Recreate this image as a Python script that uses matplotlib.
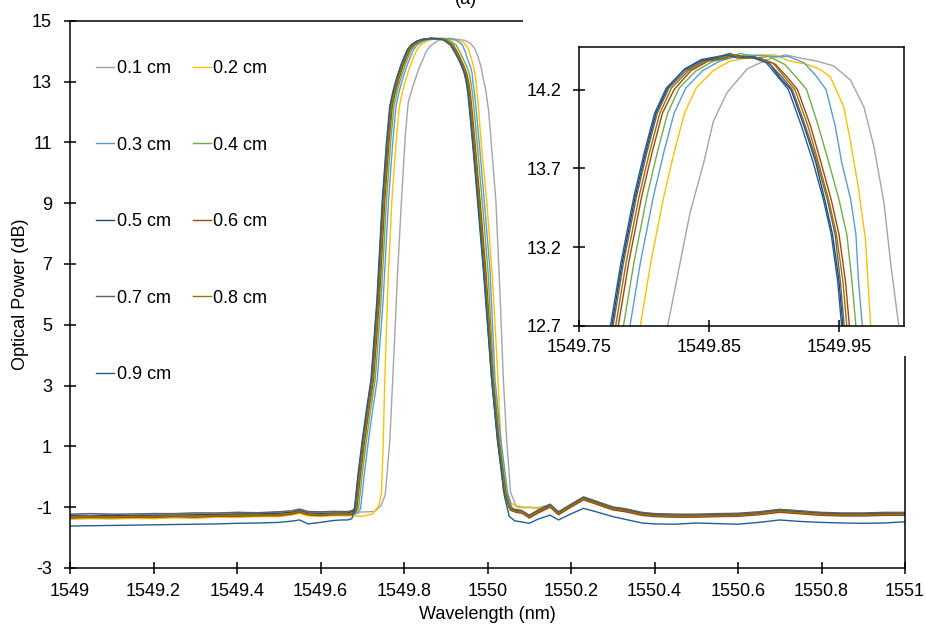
import matplotlib
matplotlib.use('Agg')
import matplotlib.pyplot as plt
from matplotlib.patches import Rectangle

plt.rcParams['font.family'] = ['Liberation Sans', 'DejaVu Sans']
plt.rcParams['axes.unicode_minus'] = False

labels = ['0.1 cm', '0.2 cm', '0.3 cm', '0.4 cm', '0.5 cm', '0.6 cm', '0.7 cm', '0.8 cm', '0.9 cm']
colors = ['#A5A5A5', '#FFC000', '#5B9BD5', '#70AD47', '#264478', '#9E480E', '#636363', '#997300', '#255E91']

# shared baseline wavelengths (nm)
wl_left = [1549.00, 1549.05, 1549.10, 1549.15, 1549.20, 1549.25, 1549.30, 1549.35,
           1549.40, 1549.45, 1549.50, 1549.53, 1549.55, 1549.57, 1549.60, 1549.63]
wl_right = [1550.10, 1550.12, 1550.15, 1550.17, 1550.20, 1550.23, 1550.26, 1550.30,
            1550.33, 1550.37, 1550.40, 1550.45, 1550.50, 1550.55, 1550.60, 1550.65,
            1550.70, 1550.75, 1550.80, 1550.85, 1550.90, 1550.95, 1551.00]

# peak wavelengths per trace, power = left baseline + peak + right baseline (dB)
pk_wl_01 = [1549.650, 1549.700, 1549.730, 1549.745, 1549.755, 1549.760, 1549.766, 1549.773,
            1549.785, 1549.794, 1549.803, 1549.810, 1549.818, 1549.8276, 1549.8353, 1549.8456,
            1549.8533, 1549.8637, 1549.8791, 1549.8945, 1549.9086, 1549.9202, 1549.9331,
            1549.9459, 1549.9588, 1549.9691, 1549.9768, 1549.9846, 1549.9897, 1549.9960,
            1550.003, 1550.010, 1550.020, 1550.030, 1550.038, 1550.046, 1550.055, 1550.068, 1550.085]
db_01 = [-1.24, -1.22, -1.24, -1.25, -1.21, -1.22, -1.19, -1.20, -1.17, -1.20, -1.16, -1.13, -1.07, -1.15, -1.16, -1.14,
         -1.15, -1.16, -1.14, -0.95, -0.60, 0.20, 1.20, 3.20, 6.80, 9.10, 11.20, 12.30, 12.70, 13.10, 13.42,
         13.73, 14.00, 14.18, 14.33, 14.39, 14.42, 14.40, 14.38, 14.35, 14.26, 14.09, 13.84, 13.48, 13.10,
         12.70, 12.00, 10.80, 9.10, 6.00, 3.20, 1.20, -0.50, -0.95, -1.00,
         -1.00, -1.02, -0.91, -1.16, -0.91, -0.67, -0.81, -1.00, -1.06, -1.18, -1.22, -1.24, -1.24, -1.22,
         -1.21, -1.16, -1.08, -1.13, -1.18, -1.20, -1.20, -1.18, -1.18]

pk_wl_02 = [1549.673, 1549.700, 1549.725, 1549.740, 1549.746, 1549.750, 1549.754, 1549.762, 1549.771,
            1549.781, 1549.789, 1549.797, 1549.805, 1549.815, 1549.823, 1549.831, 1549.840, 1549.853,
            1549.866, 1549.879, 1549.887, 1549.900, 1549.9125, 1549.9253, 1549.935, 1549.9433,
            1549.9536, 1549.9588, 1549.9652, 1549.9703, 1549.9742, 1549.978, 1549.986, 1549.998,
            1550.012, 1550.024, 1550.032, 1550.037, 1550.046, 1550.056, 1550.070, 1550.085]
db_02 = [-1.40, -1.38, -1.39, -1.37, -1.38, -1.35, -1.37, -1.33, -1.34, -1.31, -1.31, -1.26, -1.20, -1.29, -1.30, -1.28,
         -1.28, -1.30, -1.22, -0.95, -0.55, 1.00, 3.20, 6.50, 9.10, 11.00, 12.20, 12.70, 13.10, 13.52, 13.80,
         14.05, 14.21, 14.32, 14.38, 14.40, 14.42, 14.42, 14.38, 14.36, 14.33, 14.28, 14.09, 13.87, 13.56,
         13.25, 12.72, 12.20, 10.80, 9.10, 6.50, 3.50, 1.20, -0.45, -0.55, -0.85, -1.00, -1.02,
         -1.02, -1.04, -0.97, -1.22, -0.97, -0.73, -0.87, -1.06, -1.12, -1.24, -1.29, -1.31, -1.30, -1.29,
         -1.27, -1.23, -1.14, -1.19, -1.25, -1.26, -1.27, -1.24, -1.25]

pk_wl_03 = [1549.665, 1549.680, 1549.690, 1549.696, 1549.705, 1549.715, 1549.725, 1549.736, 1549.750,
            1549.763, 1549.773, 1549.781, 1549.789, 1549.797, 1549.807, 1549.815, 1549.823, 1549.832,
            1549.845, 1549.858, 1549.871, 1549.879,
            1549.901, 1549.911, 1549.923, 1549.932, 1549.940, 1549.947, 1549.952, 1549.959, 1549.963,
            1549.965, 1549.969, 1549.974, 1549.982, 1549.992, 1550.006, 1550.018, 1550.032, 1550.048,
            1550.060, 1550.073, 1550.088]
db_03 = [-1.34, -1.33, -1.33, -1.34, -1.32, -1.31, -1.30, -1.29, -1.28, -1.28, -1.26, -1.22, -1.16, -1.24, -1.26, -1.24,
         -1.24, -1.24, -1.19, -1.05, 0.10, 1.20, 2.20, 3.20, 5.80, 9.10, 11.00, 12.20, 12.70, 13.10, 13.52,
         13.80, 14.05, 14.21, 14.32, 14.38, 14.41, 14.42,
         14.41, 14.41, 14.37, 14.29, 14.20, 13.97, 13.74, 13.50, 13.28, 12.98, 12.60, 11.90, 10.70, 9.10,
         6.80, 3.20, 1.20, -0.50, -1.08, -1.15, -1.18,
         -1.34, -1.18, -0.98, -1.23, -0.98, -0.74, -0.88, -1.07, -1.13, -1.25, -1.29, -1.31, -1.31, -1.29,
         -1.28, -1.23, -1.15, -1.20, -1.25, -1.27, -1.27, -1.25, -1.25]

pk_wl_04 = [1549.660, 1549.675, 1549.685, 1549.691, 1549.700, 1549.710, 1549.720, 1549.731, 1549.745,
            1549.758, 1549.768, 1549.776, 1549.784, 1549.792, 1549.802, 1549.810, 1549.818, 1549.827,
            1549.840, 1549.853, 1549.866, 1549.874,
            1549.886, 1549.896, 1549.908, 1549.917, 1549.925, 1549.934, 1549.942, 1549.950, 1549.956,
            1549.960, 1549.964, 1549.969, 1549.977, 1549.987, 1550.001, 1550.015, 1550.029, 1550.045,
            1550.057, 1550.070, 1550.085]
db_04 = [-1.31, -1.29, -1.30, -1.30, -1.28, -1.28, -1.27, -1.26, -1.24, -1.25, -1.22, -1.19, -1.13, -1.21, -1.22, -1.21,
         -1.21, -1.21, -1.16, -1.05, 0.10, 1.20, 2.20, 3.20, 5.80, 9.10, 11.00, 12.20, 12.70, 13.10, 13.52,
         13.80, 14.05, 14.21, 14.32, 14.38, 14.40, 14.43,
         14.40, 14.41, 14.36, 14.28, 14.20, 13.97, 13.74, 13.50, 13.28, 12.98, 12.60, 11.90, 10.70, 9.10,
         6.80, 3.20, 1.20, -0.50, -1.05, -1.12, -1.15,
         -1.31, -1.15, -0.95, -1.20, -0.95, -0.71, -0.85, -1.04, -1.10, -1.22, -1.26, -1.28, -1.28, -1.26,
         -1.25, -1.20, -1.12, -1.17, -1.22, -1.24, -1.24, -1.22, -1.22]

pk_wl_05 = [1549.651, 1549.666, 1549.676, 1549.682, 1549.691, 1549.701, 1549.711, 1549.722, 1549.736,
            1549.749, 1549.759, 1549.767, 1549.775, 1549.783, 1549.793, 1549.801, 1549.809, 1549.818,
            1549.831, 1549.844, 1549.857, 1549.865,
            1549.874, 1549.884, 1549.896, 1549.905, 1549.913, 1549.923, 1549.932, 1549.939, 1549.945,
            1549.950, 1549.954, 1549.959, 1549.967, 1549.977, 1549.991, 1550.010, 1550.024, 1550.040,
            1550.052, 1550.065, 1550.080]
db_05 = [-1.28, -1.29, -1.27, -1.28, -1.26, -1.26, -1.25, -1.24, -1.22, -1.22, -1.20, -1.17, -1.11, -1.19, -1.20, -1.19,
         -1.19, -1.19, -1.14, -1.05, 0.10, 1.20, 2.20, 3.20, 5.80, 9.10, 11.00, 12.20, 12.70, 13.10, 13.52,
         13.80, 14.05, 14.21, 14.33, 14.39, 14.41, 14.42,
         14.41, 14.40, 14.37, 14.27, 14.20, 13.97, 13.74, 13.50, 13.28, 12.98, 12.60, 11.90, 10.70, 9.10,
         6.80, 3.20, 1.20, -0.50, -1.03, -1.10, -1.13,
         -1.29, -1.13, -0.93, -1.18, -0.93, -0.69, -0.83, -1.02, -1.08, -1.20, -1.24, -1.26, -1.26, -1.24,
         -1.23, -1.18, -1.10, -1.15, -1.20, -1.22, -1.22, -1.20, -1.20]

pk_wl_06 = [1549.656, 1549.671, 1549.681, 1549.687, 1549.696, 1549.706, 1549.716, 1549.727, 1549.741,
            1549.754, 1549.764, 1549.772, 1549.780, 1549.788, 1549.798, 1549.806, 1549.814, 1549.823,
            1549.836, 1549.849, 1549.862, 1549.870,
            1549.879, 1549.889, 1549.901, 1549.910, 1549.918, 1549.928, 1549.936, 1549.944, 1549.950,
            1549.955, 1549.959, 1549.964, 1549.972, 1549.982, 1549.996, 1550.013, 1550.027, 1550.043,
            1550.055, 1550.068, 1550.083]
db_06 = [-1.36, -1.34, -1.35, -1.33, -1.34, -1.31, -1.33, -1.30, -1.30, -1.28, -1.28, -1.23, -1.17, -1.25, -1.28, -1.25,
         -1.25, -1.25, -1.20, -1.05, 0.10, 1.20, 2.20, 3.20, 5.80, 9.10, 11.00, 12.20, 12.70, 13.10, 13.52,
         13.80, 14.05, 14.20, 14.32, 14.38, 14.40, 14.42,
         14.40, 14.40, 14.36, 14.28, 14.20, 13.97, 13.74, 13.50, 13.28, 12.98, 12.60, 11.90, 10.70, 9.10,
         6.80, 3.20, 1.20, -0.50, -1.10, -1.17, -1.20,
         -1.36, -1.20, -1.00, -1.25, -1.00, -0.76, -0.90, -1.09, -1.15, -1.27, -1.31, -1.33, -1.33, -1.31,
         -1.30, -1.25, -1.17, -1.22, -1.27, -1.29, -1.29, -1.27, -1.27]

pk_wl_07 = [1549.652, 1549.667, 1549.677, 1549.683, 1549.692, 1549.702, 1549.712, 1549.723, 1549.737,
            1549.750, 1549.760, 1549.768, 1549.776, 1549.784, 1549.794, 1549.802, 1549.810, 1549.819,
            1549.832, 1549.845, 1549.858, 1549.866,
            1549.875, 1549.885, 1549.897, 1549.906, 1549.914, 1549.924, 1549.933, 1549.941, 1549.947,
            1549.951, 1549.955, 1549.960, 1549.968, 1549.978, 1549.992, 1550.011, 1550.025, 1550.041,
            1550.053, 1550.066, 1550.081]
db_07 = [-1.23, -1.21, -1.23, -1.22, -1.21, -1.21, -1.19, -1.19, -1.17, -1.18, -1.15, -1.12, -1.06, -1.14, -1.15, -1.14,
         -1.14, -1.14, -1.10, -1.02, 0.10, 1.20, 2.20, 3.20, 5.80, 9.10, 11.00, 12.20, 12.70, 13.10, 13.52,
         13.80, 14.05, 14.21, 14.32, 14.38, 14.41, 14.43,
         14.40, 14.41, 14.36, 14.28, 14.20, 13.97, 13.74, 13.50, 13.28, 12.98, 12.60, 11.90, 10.70, 9.10,
         6.80, 3.20, 1.20, -0.50, -1.00, -1.07, -1.10,
         -1.26, -1.10, -0.90, -1.15, -0.90, -0.66, -0.80, -0.99, -1.05, -1.17, -1.21, -1.23, -1.23, -1.21,
         -1.20, -1.15, -1.07, -1.12, -1.17, -1.19, -1.19, -1.17, -1.17]

pk_wl_08 = [1549.654, 1549.669, 1549.679, 1549.685, 1549.694, 1549.704, 1549.714, 1549.725, 1549.739,
            1549.752, 1549.762, 1549.770, 1549.778, 1549.786, 1549.796, 1549.804, 1549.812, 1549.821,
            1549.834, 1549.847, 1549.860, 1549.868,
            1549.877, 1549.887, 1549.899, 1549.908, 1549.916, 1549.926, 1549.934, 1549.942, 1549.948,
            1549.953, 1549.957, 1549.962, 1549.970, 1549.980, 1549.994, 1550.012, 1550.026, 1550.042,
            1550.054, 1550.067, 1550.082]
db_08 = [-1.32, -1.31, -1.32, -1.30, -1.31, -1.28, -1.29, -1.27, -1.27, -1.25, -1.25, -1.20, -1.14, -1.22, -1.25, -1.22,
         -1.22, -1.22, -1.17, -1.05, 0.10, 1.20, 2.20, 3.20, 5.80, 9.10, 11.00, 12.20, 12.70, 13.10, 13.52,
         13.80, 14.05, 14.21, 14.32, 14.38, 14.40, 14.42,
         14.40, 14.40, 14.37, 14.28, 14.20, 13.97, 13.74, 13.50, 13.28, 12.98, 12.60, 11.90, 10.70, 9.10,
         6.80, 3.20, 1.20, -0.50, -1.06, -1.13, -1.16,
         -1.32, -1.16, -0.96, -1.21, -0.96, -0.72, -0.86, -1.05, -1.11, -1.23, -1.27, -1.29, -1.29, -1.27,
         -1.26, -1.21, -1.13, -1.18, -1.23, -1.25, -1.25, -1.23, -1.23]

pk_wl_09 = [1549.650, 1549.665, 1549.675, 1549.681, 1549.690, 1549.700, 1549.710, 1549.721, 1549.735,
            1549.748, 1549.758, 1549.766, 1549.774, 1549.782, 1549.792, 1549.800, 1549.808, 1549.817,
            1549.830, 1549.843, 1549.856, 1549.864,
            1549.872, 1549.882, 1549.894, 1549.903, 1549.911, 1549.921, 1549.930, 1549.938, 1549.944,
            1549.949, 1549.953, 1549.958, 1549.966, 1549.976, 1549.990, 1550.010, 1550.024, 1550.040,
            1550.052, 1550.065, 1550.080]
db_09 = [-1.62, -1.61, -1.60, -1.59, -1.58, -1.57, -1.56, -1.55, -1.53, -1.52, -1.50, -1.46, -1.42, -1.55, -1.50, -1.44,
         -1.42, -1.42, -1.38, -1.10, 0.10, 1.20, 2.20, 3.20, 5.80, 9.10, 11.00, 12.20, 12.70, 13.10, 13.52,
         13.80, 14.05, 14.21, 14.32, 14.38, 14.40, 14.42,
         14.40, 14.41, 14.37, 14.28, 14.20, 13.97, 13.74, 13.50, 13.28, 12.98, 12.60, 11.90, 10.70, 9.10,
         6.80, 3.20, 1.20, -0.60, -1.30, -1.45, -1.48,
         -1.53, -1.40, -1.26, -1.42, -1.22, -1.04, -1.15, -1.31, -1.40, -1.52, -1.55, -1.56, -1.52, -1.54,
         -1.56, -1.50, -1.42, -1.47, -1.50, -1.52, -1.53, -1.52, -1.48]

peaks = [pk_wl_01, pk_wl_02, pk_wl_03, pk_wl_04, pk_wl_05, pk_wl_06, pk_wl_07, pk_wl_08, pk_wl_09]
powers = [db_01, db_02, db_03, db_04, db_05, db_06, db_07, db_08, db_09]

main_xticks = [1549 + 0.2 * i for i in range(11)]
main_yticks = list(range(-3, 16, 2))
inset_xticks = [1549.75, 1549.85, 1549.95]
inset_yticks = [12.7, 13.2, 13.7, 14.2]

W, H = 926, 627
fig = plt.figure(figsize=(W / 100, H / 100), dpi=100)
ax = fig.add_axes([70 / W, 1 - 568 / H, 835 / W, 547.3 / H])

lines = []
for lab, col, pk, db in zip(labels, colors, peaks, powers):
    wl = wl_left + pk + wl_right
    ln, = ax.plot(wl, db, color=col, lw=1.0, label=lab)
    lines.append(ln)

ax.set_xlim(1549, 1551)
ax.set_ylim(-3, 15)
ax.set_xticks(main_xticks)
ax.set_xticklabels([f'{v:g}' for v in main_xticks])
ax.set_yticks(main_yticks)
ax.tick_params(direction='inout', length=8, width=1.1, labelsize=13, color='black')
ax.tick_params(axis='x', pad=7)
ax.tick_params(axis='y', pad=9)
for sp in ax.spines.values():
    sp.set_linewidth(1.1)
    sp.set_color('black')
ax.set_xlabel('Wavelength (nm)', fontsize=13, labelpad=4)
ax.set_ylabel('Optical Power (dB)', fontsize=13, labelpad=2)

# legend in Excel row order (0.1 0.2 / 0.3 0.4 / ...)
order = [0, 2, 4, 6, 8, 1, 3, 5, 7]
ax.legend([lines[i] for i in order], [labels[i] for i in order], ncol=2,
          loc='upper left', bbox_to_anchor=(96 / W, 1 - 60 / H), bbox_transform=fig.transFigure,
          frameon=False, fontsize=13, handlelength=1.0, handletextpad=0.15,
          labelspacing=3.3, columnspacing=1.2, borderpad=0, borderaxespad=0)

# panel label, cut by the top edge as in the source figure
fig.text(466 / W, 1 - 4 / H, '(a)', ha='center', va='baseline', fontsize=13)

# white chart area behind the inset
fig.patches.append(Rectangle((523 / W, 1 - 356 / H), 395 / W, 345 / H, transform=fig.transFigure,
                             facecolor='white', edgecolor='none', zorder=1))

axin = fig.add_axes([579.3 / W, 1 - 326 / H, 324.7 / W, 279 / H], zorder=2)
for col, pk, db in zip(colors, peaks, powers):
    axin.plot(wl_left + pk + wl_right, db, color=col, lw=1.0)
axin.set_xlim(1549.75, 1550.0)
axin.set_ylim(12.7, 14.47)
axin.set_xticks(inset_xticks)
axin.set_xticklabels([f'{v:g}' for v in inset_xticks])
axin.set_yticks(inset_yticks)
axin.set_yticklabels([f'{v:.1f}' for v in inset_yticks])
axin.tick_params(direction='inout', length=8, width=1.1, labelsize=13, color='black')
axin.tick_params(axis='x', pad=5)
axin.tick_params(axis='y', pad=9)
for sp in axin.spines.values():
    sp.set_linewidth(1.1)
    sp.set_color('black')

fig.savefig('out.png', dpi=100)
